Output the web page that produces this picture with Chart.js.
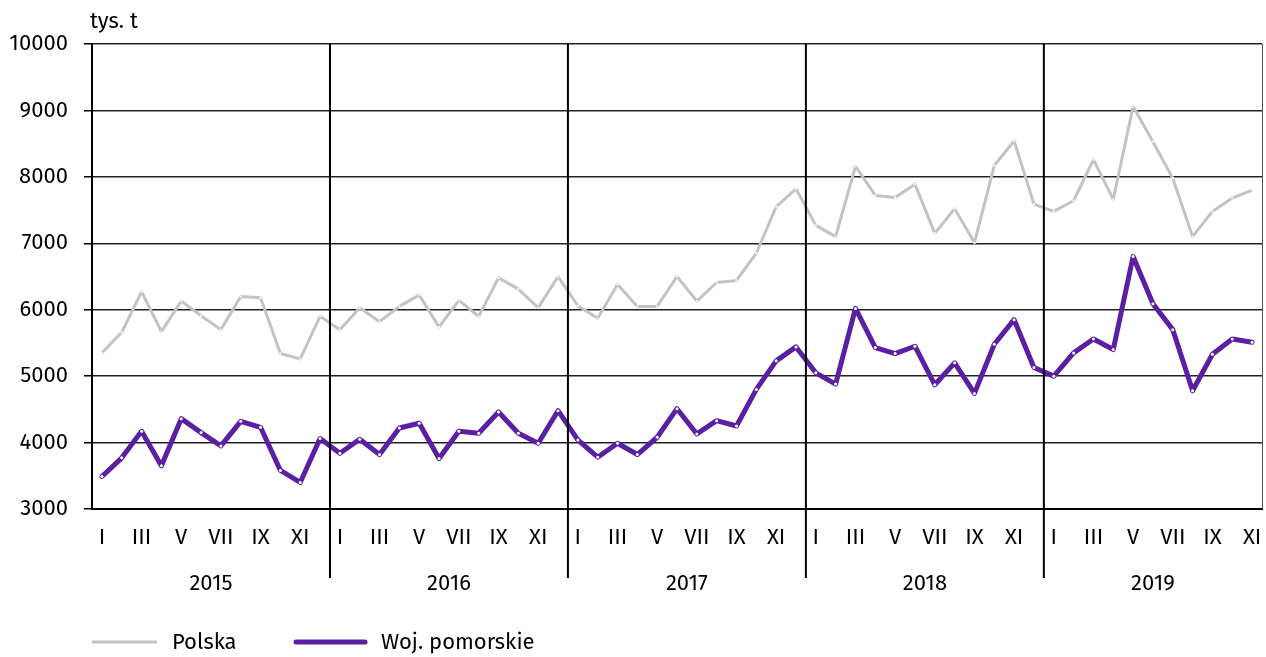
<!DOCTYPE html>
<html>
<head>
<meta charset="utf-8">
<script src="https://cdn.jsdelivr.net/npm/chart.js@4"></script>
<style>
  html, body { margin: 0; padding: 0; background: #fff; }
  canvas { display: block; }
</style>
</head>
<body>
<canvas id="myChart" width="1266" height="657"></canvas>
<script>
const years = ['2015', '2016', '2017', '2018', '2019'];
const months = ['I', 'II', 'III', 'IV', 'V', 'VI', 'VII', 'VIII', 'IX', 'X', 'XI', 'XII'];

// tys. t, Jan 2015 - Nov 2019
const polska = [
    5350, 5660, 6270, 5670, 6130, 5910, 5700, 6200, 6180, 5340, 5260, 5900,
    5700, 6030, 5820, 6050, 6220, 5740, 6140, 5900, 6480, 6310, 6030, 6500,
    6060, 5870, 6380, 6050, 6050, 6500, 6130, 6410, 6440, 6850, 7550, 7820,
    7270, 7100, 8160, 7720, 7690, 7890, 7150, 7520, 7010, 8170, 8540, 7590,
    7480, 7640, 8260, 7660, 9060, 8530, 7980, 7100, 7480, 7680, 7800
];
const pomorskie = [
    3490, 3770, 4170, 3650, 4360, 4150, 3950, 4320, 4230, 3580, 3400, 4060,
    3840, 4050, 3820, 4220, 4290, 3760, 4170, 4140, 4460, 4140, 3990, 4480,
    4040, 3780, 3990, 3820, 4080, 4510, 4130, 4330, 4250, 4800, 5230, 5440,
    5050, 4880, 6020, 5430, 5340, 5450, 4870, 5200, 4740, 5480, 5850, 5130,
    5000, 5350, 5560, 5400, 6800, 6090, 5700, 4780, 5330, 5560, 5510
];

const FONT = "'Fira Sans', 'Open Sans', 'Noto Sans', sans-serif";
const FS = 22;

var labels = [];
for (var i = 0; i < polska.length; i++) {
    labels.push(months[i % 12] + ' ' + years[Math.floor(i / 12)]);
}

// year separators, year labels, unit text and legend
const extras = {
    id: 'extras',
    afterDraw(chart) {
        const c = chart.ctx;
        const area = chart.chartArea;
        const x = chart.scales.x;
        c.save();
        c.strokeStyle = '#000';
        c.lineWidth = 2;
        var bounds = [area.left];
        for (var y = 1; y < years.length; y++) {
            var bx = (x.getPixelForValue(y * 12 - 1) + x.getPixelForValue(y * 12)) / 2;
            bounds.push(bx);
            c.beginPath();
            c.moveTo(bx, area.top);
            c.lineTo(bx, 578);
            c.stroke();
        }
        bounds.push(area.right);

        // thin right border
        c.lineWidth = 1;
        c.strokeStyle = '#555';
        c.beginPath();
        c.moveTo(area.right + 0.5, area.top);
        c.lineTo(area.right + 0.5, area.bottom);
        c.stroke();

        c.fillStyle = '#000';
        c.font = FS + 'px ' + FONT;
        c.textAlign = 'center';
        c.textBaseline = 'middle';
        for (var k = 0; k < years.length; k++) {
            c.fillText(years[k], (bounds[k] + bounds[k + 1]) / 2, 584);
        }

        c.textAlign = 'left';
        c.fillText('tys. t', 90, 22);

        // legend
        const ds = chart.data.datasets;
        const items = [[92, 157, 172], [296, 365, 381]];
        for (var j = 0; j < ds.length; j++) {
            c.strokeStyle = ds[j].borderColor;
            c.lineWidth = ds[j].borderWidth;
            c.lineCap = j === 1 ? 'round' : 'butt';
            c.beginPath();
            c.moveTo(items[j][0], 642);
            c.lineTo(items[j][1], 642);
            c.stroke();
            c.fillText(ds[j].label, items[j][2], 643);
        }
        c.restore();
    }
};

const ctx = document.getElementById('myChart');

new Chart(ctx, {
    type: 'line',
    data: {
        labels: labels,
        datasets: [{
            label: 'Polska',
            data: polska,
            borderColor: '#c3c3c3',
            borderWidth: 3,
            borderJoinStyle: 'round',
            pointRadius: 1.2,
            pointBackgroundColor: '#f4f4f4',
            pointBorderWidth: 0,
            tension: 0
        }, {
            label: 'Woj. pomorskie',
            data: pomorskie,
            borderColor: '#5b1fa3',
            borderWidth: 5,
            borderJoinStyle: 'round',
            borderCapStyle: 'round',
            pointRadius: 1.5,
            pointBackgroundColor: '#ffffff',
            pointBorderWidth: 0,
            tension: 0
        }]
    },
    options: {
        responsive: false,
        animation: false,
        maintainAspectRatio: false,
        layout: {
            padding: { left: 0, right: 4, top: 44, bottom: 108 }
        },
        plugins: {
            legend: { display: false },
            tooltip: { enabled: false }
        },
        scales: {
            x: {
                offset: true,
                grid: { display: false, drawTicks: false },
                border: { display: true, color: '#000', width: 2 },
                ticks: {
                    autoSkip: false,
                    maxRotation: 0,
                    padding: 16,
                    color: '#000',
                    font: { size: FS, family: FONT },
                    callback: function (value, index) {
                        return index % 2 === 0 ? months[index % 12] : '';
                    }
                },
                afterFit: function (scale) {
                    scale.height = 40;
                    scale.paddingLeft = 0;
                    scale.paddingRight = 0;
                }
            },
            y: {
                min: 3000,
                max: 10000,
                ticks: {
                    stepSize: 1000,
                    padding: 16,
                    color: '#000',
                    font: { size: FS, family: FONT },
                    callback: function (value) { return String(value); }
                },
                grid: {
                    color: '#222',
                    lineWidth: 1.5,
                    drawTicks: true,
                    tickLength: 8,
                    tickColor: '#000'
                },
                border: { display: true, color: '#000', width: 2 },
                afterFit: function (scale) {
                    scale.width = 92;
                    scale.paddingTop = 0;
                    scale.paddingBottom = 0;
                }
            }
        }
    },
    plugins: [extras]
});
</script>
</body>
</html>
